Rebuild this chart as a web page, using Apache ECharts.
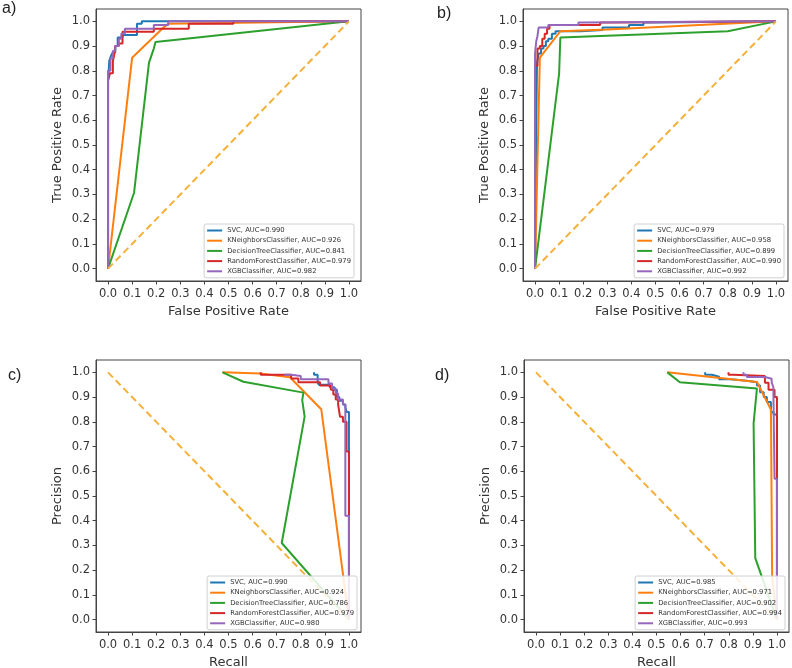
<!DOCTYPE html>
<html>
<head>
<meta charset="utf-8">
<script src="https://cdn.jsdelivr.net/npm/echarts@6/dist/echarts.min.js"></script>
<style>html,body{margin:0;padding:0;background:#fff;}#chart{width:792px;height:668px;}</style>
</head>
<body>
<div id="chart"></div>
<script>
// ---------- data ----------
const modelNames = ['SVC', 'KNeighborsClassifier', 'DecisionTreeClassifier', 'RandomForestClassifier', 'XGBClassifier'];
const panelLabels = ['a)', 'b)', 'c)', 'd)'];
const xTitles = ['False Positive Rate', 'False Positive Rate', 'Recall', 'Recall'];
const yTitles = ['True Positive Rate', 'True Positive Rate', 'Precision', 'Precision'];
const tickValues = [0, 0.1, 0.2, 0.3, 0.4, 0.5, 0.6, 0.7, 0.8, 0.9, 1.0];

const aucA = ['0.990', '0.926', '0.841', '0.979', '0.982'];
const aucB = ['0.979', '0.958', '0.899', '0.990', '0.992'];
const aucC = ['0.990', '0.924', '0.786', '0.979', '0.980'];
const aucD = ['0.985', '0.971', '0.902', '0.994', '0.993'];

// Panel a (ROC): [FPR, TPR]
const aSVC = [[0,0],[0,0.42],[0,0.76],[0.005,0.76],[0.005,0.84],[0.012,0.84],[0.012,0.86],[0.02,0.86],[0.02,0.875],[0.03,0.875],[0.03,0.9],[0.04,0.9],[0.04,0.935],[0.06,0.935],[0.06,0.945],[0.12,0.945],[0.12,0.99],[0.14,0.99],[0.14,1.0],[1,1]];
const aKNN = [[0,0],[0.1,0.853],[0.23,0.975],[0.25,0.99],[1,1]];
const aDT = [[0,0],[0.108,0.307],[0.17,0.833],[0.19,0.89],[0.197,0.917],[1,1]];
const aRF = [[0,0],[0,0.42],[0,0.76],[0.008,0.76],[0.008,0.79],[0.02,0.79],[0.02,0.84],[0.025,0.84],[0.025,0.86],[0.03,0.86],[0.03,0.9],[0.045,0.9],[0.045,0.91],[0.06,0.91],[0.06,0.958],[0.19,0.958],[0.19,0.97],[0.335,0.97],[0.335,0.99],[0.52,0.99],[0.52,1.0],[1,1]];
const aXGB = [[0,0],[0,0.8],[0.01,0.8],[0.01,0.85],[0.02,0.85],[0.02,0.88],[0.03,0.88],[0.03,0.9],[0.045,0.9],[0.045,0.93],[0.055,0.93],[0.055,0.95],[0.07,0.95],[0.07,0.97],[0.19,0.97],[0.19,0.985],[0.25,0.985],[0.25,1.0],[1,1]];

// Panel b (ROC)
const bSVC = [[0,0],[0.005,0.57],[0.008,0.83],[0.015,0.83],[0.015,0.87],[0.025,0.87],[0.025,0.89],[0.035,0.89],[0.035,0.9],[0.045,0.9],[0.045,0.92],[0.055,0.92],[0.055,0.93],[0.07,0.93],[0.07,0.95],[0.085,0.95],[0.085,0.96],[0.19,0.96],[0.19,0.965],[0.28,0.965],[0.28,0.975],[0.39,0.975],[0.39,0.985],[0.45,0.985],[0.45,0.995],[0.5,0.995],[0.5,1.0],[1,1]];
const bKNN = [[0,0],[0.02,0.853],[0.105,0.96],[0.3,0.967],[1,1]];
const bDT = [[0,0],[0.1,0.79],[0.105,0.935],[0.8,0.96],[1,1]];
const bRF = [[0,0],[0,0.57],[0,0.82],[0.01,0.82],[0.01,0.89],[0.02,0.89],[0.02,0.9],[0.03,0.9],[0.03,0.93],[0.04,0.93],[0.04,0.95],[0.05,0.95],[0.05,0.97],[0.06,0.97],[0.06,0.985],[0.27,0.985],[0.27,0.995],[0.32,0.995],[0.32,1.0],[1,1]];
const bXGB = [[0,0],[0,0.87],[0.005,0.87],[0.005,0.92],[0.01,0.92],[0.01,0.94],[0.015,0.94],[0.015,0.975],[0.055,0.975],[0.055,0.985],[0.18,0.985],[0.18,0.995],[0.2,0.995],[0.2,1.0],[1,1]];

// Panel c (PR): [Recall, Precision]
const cSVC = [[0.855,1.0],[0.855,0.99],[0.87,0.99],[0.87,0.96],[0.875,0.96],[0.875,0.95],[0.92,0.95],[0.92,0.94],[0.94,0.94],[0.94,0.93],[0.95,0.93],[0.95,0.9],[0.96,0.9],[0.96,0.885],[0.975,0.885],[0.975,0.87],[0.985,0.87],[0.985,0.86],[0.99,0.86],[0.99,0.84],[1.0,0.84],[1.0,0.0]];
const cKNN = [[0.475,1.0],[0.63,0.995],[0.755,0.98],[0.885,0.851],[1.0,0.0]];
const cDT = [[0.475,1.0],[0.562,0.962],[0.811,0.918],[0.806,0.888],[0.816,0.821],[0.721,0.31],[1.0,0.0]];
const cRF = [[0.634,1.0],[0.634,0.99],[0.76,0.99],[0.76,0.975],[0.79,0.975],[0.79,0.96],[0.88,0.96],[0.88,0.947],[0.925,0.947],[0.925,0.93],[0.935,0.93],[0.935,0.91],[0.945,0.91],[0.945,0.89],[0.955,0.89],[0.955,0.87],[0.963,0.87],[0.963,0.82],[0.975,0.82],[0.975,0.8],[0.99,0.8],[0.99,0.68],[1.0,0.68],[1.0,0.0]];
const cXGB = [[0.73,0.99],[0.76,0.99],[0.76,0.985],[0.8,0.985],[0.8,0.972],[0.915,0.972],[0.915,0.955],[0.93,0.955],[0.93,0.935],[0.945,0.935],[0.945,0.915],[0.955,0.915],[0.955,0.89],[0.975,0.89],[0.975,0.87],[0.985,0.87],[0.985,0.42],[1.0,0.42],[1.0,0.0]];

// Panel d (PR)
const dSVC = [[0.702,1.0],[0.702,0.99],[0.73,0.99],[0.73,0.982],[0.76,0.982],[0.76,0.972],[0.806,0.972],[0.806,0.966],[0.875,0.966],[0.875,0.96],[0.917,0.96],[0.917,0.947],[0.93,0.947],[0.93,0.92],[0.945,0.92],[0.945,0.9],[0.958,0.9],[0.958,0.88],[0.975,0.88],[0.975,0.84],[0.986,0.84],[0.986,0.83],[1.0,0.83],[1.0,0.0]];
const dKNN = [[0.545,1.0],[0.917,0.961],[0.975,0.85],[0.98,0.17],[1.0,0.0]];
const dDT = [[0.545,1.0],[0.597,0.96],[0.917,0.935],[0.903,0.794],[0.91,0.249],[1.0,0.0]];
const dRF = [[0.799,1.0],[0.799,0.99],[0.82,0.99],[0.82,0.985],[0.95,0.985],[0.95,0.958],[0.965,0.958],[0.965,0.93],[0.99,0.93],[0.99,0.9],[1.0,0.9],[1.0,0.0]];
const dXGB = [[0.861,1.0],[0.861,0.99],[0.875,0.99],[0.875,0.981],[0.95,0.981],[0.95,0.974],[0.978,0.974],[0.978,0.96],[0.985,0.96],[0.985,0.94],[0.99,0.94],[0.99,0.57],[1.0,0.57],[1.0,0.0]];

const rocDiagonal = [[0,0],[1,1]];
const prDiagonal = [[0,1],[1,0]];

// ---------- layout / style ----------
const panelCurves = [
  [aSVC, aKNN, aDT, aRF, aXGB],
  [bSVC, bKNN, bDT, bRF, bXGB],
  [cSVC, cKNN, cDT, cRF, cXGB],
  [dSVC, dKNN, dDT, dRF, dXGB]
];
const panelAUC = [aucA, aucB, aucC, aucD];
const panelDiag = [rocDiagonal, rocDiagonal, prDiagonal, prDiagonal];
const gridPos = [
  {left: 96, top: 9, width: 265, height: 272},
  {left: 523, top: 9, width: 265, height: 272},
  {left: 96, top: 360, width: 265, height: 272},
  {left: 524, top: 360, width: 265, height: 272}
];
const legendPos = [
  {right: 438, top: 224},
  {right: 8, top: 224},
  {right: 435, top: 576},
  {right: 7, top: 576}
];
const labelPos = [
  {left: 2, top: 1},
  {left: 437, top: 6},
  {left: 8, top: 368},
  {left: 435, top: 368}
];
const lineColors = ['#1f77b4', '#ff7f0e', '#2ca02c', '#d62728', '#9467bd'];
const FONT = 'DejaVu Sans';
const axisColor = '#444';

const grids = [], xAxes = [], yAxes = [], series = [], legends = [], titles = [];
const fmt = v => v.toFixed(1);

for (let p = 0; p < 4; p++) {
  grids.push(Object.assign({show: true, borderColor: axisColor, borderWidth: 1, containLabel: false, outerBoundsMode: 'none'}, gridPos[p]));
  const axisCommon = {
    type: 'value', min: -0.05, max: 1.05, gridIndex: p,
    splitLine: {show: false},
    axisLine: {show: true, onZero: false, lineStyle: {color: axisColor, width: 1}},
    axisTick: {show: true, length: 3.5, customValues: tickValues, lineStyle: {color: axisColor}},
    nameLocation: 'middle',
    nameTextStyle: {fontFamily: FONT, fontSize: 13, color: '#333'}
  };
  xAxes.push(Object.assign({}, axisCommon, {
    name: xTitles[p], nameGap: 24,
    axisLabel: {customValues: tickValues, formatter: fmt, fontFamily: FONT, fontSize: 11.5, color: '#333', margin: 7}
  }));
  yAxes.push(Object.assign({}, axisCommon, {
    name: yTitles[p], nameGap: 32,
    axisLabel: {customValues: tickValues, formatter: fmt, fontFamily: FONT, fontSize: 11.5, color: '#333', margin: 6}
  }));
  const names = [];
  for (let i = 0; i < 5; i++) {
    const nm = modelNames[i] + ', AUC=' + panelAUC[p][i];
    names.push(nm);
    series.push({
      type: 'line', name: nm, xAxisIndex: p, yAxisIndex: p,
      data: panelCurves[p][i], symbol: 'none', showSymbol: false,
      lineStyle: {color: lineColors[i], width: 2},
      itemStyle: {color: lineColors[i]},
      silent: true
    });
  }
  series.push({
    type: 'line', name: 'diag' + p, xAxisIndex: p, yAxisIndex: p,
    data: panelDiag[p], symbol: 'none', showSymbol: false,
    lineStyle: {color: '#f5b03a', width: 2, type: [7, 4]},
    silent: true
  });
  legends.push(Object.assign({
    data: names, orient: 'vertical', icon: 'rect', itemWidth: 15, itemHeight: 2,
    itemGap: 1.2, padding: [2, 3, 2, 3], selectedMode: false,
    backgroundColor: 'rgba(255,255,255,0.85)', borderColor: '#d0d0d0', borderWidth: 1, borderRadius: 2,
    textStyle: {fontFamily: FONT, fontSize: 6.8, color: '#333', lineHeight: 9}
  }, legendPos[p]));
  titles.push(Object.assign({
    text: panelLabels[p], padding: 0,
    textStyle: {fontFamily: 'Liberation Sans', fontSize: 16, fontWeight: 'normal', color: '#222'}
  }, labelPos[p]));
}

const chart = echarts.init(document.getElementById('chart'), null, {renderer: 'canvas'});
chart.setOption({
  animation: false,
  backgroundColor: '#fff',
  title: titles,
  grid: grids,
  xAxis: xAxes,
  yAxis: yAxes,
  legend: legends,
  series: series
});
</script>
</body>
</html>
